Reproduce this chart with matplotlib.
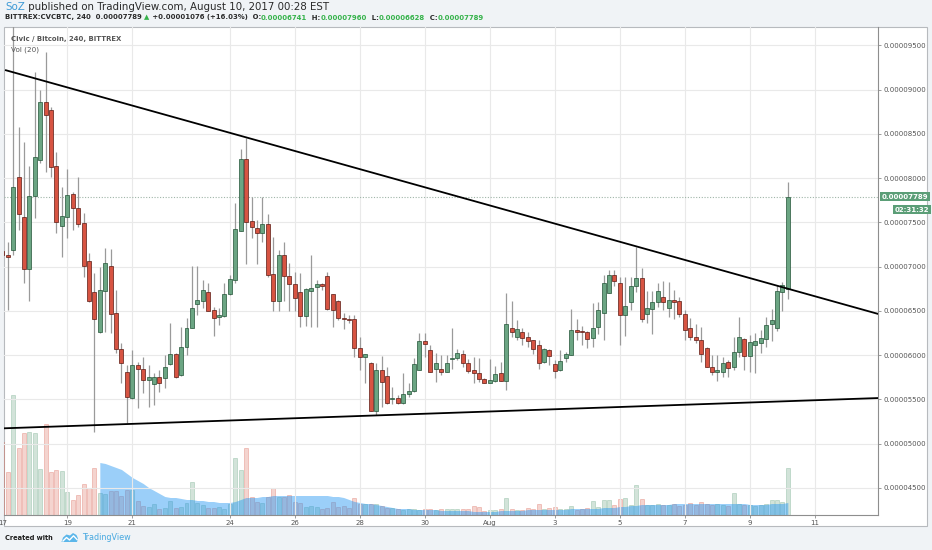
import numpy as np
import pandas as pd
import matplotlib
matplotlib.use('Agg')
import matplotlib.pyplot as plt
import matplotlib.dates as mdates
from matplotlib.patches import Rectangle, Polygon
from matplotlib.ticker import FuncFormatter

# ---------------- data (prices in satoshi = 1e-8 BTC) ----------------
start_time = '2017-07-17 00:00'   # first 4h candle (partly hidden at left edge)
opens = [7180, 7130, 7187, 8008, 7556, 6972, 7797, 8204, 8863, 8769, 8136, 7458, 7564, 7820, 7658, 7488,
         7062, 6708, 6264, 6727, 7010, 6471, 6068, 5812, 5510, 5887, 5838, 5718, 5672, 5748, 5737, 5898,
         6008, 5774, 6087, 6302, 6573, 6614, 6716, 6509, 6426, 6441, 6686, 6848, 7405, 8211, 7518, 7432,
         7383, 7481, 6912, 6614, 7130, 6893, 6803, 6716, 6445, 6727, 6765, 6799, 6893, 6690, 6614, 6422,
         6411, 6407, 6083, 5982, 5906, 5371, 5831, 5763, 5499, 5518, 5454, 5556, 5593, 5831, 6162, 6057,
         5838, 5838, 5812, 5951, 5970, 6008, 5906, 5831, 5793, 5725, 5688, 5707, 5793, 5710, 6309, 6200,
         6264, 6200, 6170, 6113, 5925, 6057, 5895, 5831, 5963, 6000, 6283, 6272, 6256, 6189, 6321, 6471,
         6705, 6901, 6810, 6452, 6603, 6780, 6867, 6464, 6516, 6603, 6660, 6528, 6622, 6611, 6464, 6302,
         6200, 6170, 6083, 5868, 5806, 5806, 5925, 5868, 6038, 6181, 5989, 6113, 6140, 6177, 6351, 6302,
         6716, 6741]
highs = [7300, 7281, 9800, 8581, 8411, 8136, 9202, 8995, 9421, 8807, 8298, 7903, 8098, 7846, 8016, 7601,
         7149, 6923, 6998, 7206, 7194, 6735, 6132, 5887, 6057, 5925, 5981, 5887, 5793, 5831, 6000, 6358,
         6027, 6313, 6415, 7006, 7006, 6848, 6810, 6546, 6528, 6810, 6904, 7714, 8324, 8449, 7789, 7526,
         7782, 7594, 7337, 7187, 7281, 7036, 6942, 6923, 6754, 7130, 6848, 6818, 6942, 6690, 6622, 6471,
         6452, 6452, 6208, 6010, 5917, 5906, 5989, 5868, 5635, 5548, 5793, 5680, 5963, 6245, 6245, 6113,
         6019, 6000, 6000, 6302, 6064, 6057, 5951, 5982, 5963, 5737, 5951, 5876, 5925, 6697, 6614, 6396,
         6302, 6264, 6175, 6170, 6076, 6064, 5944, 6057, 6038, 6516, 6403, 6328, 6275, 6592, 6603, 6904,
         6965, 6961, 6886, 6886, 6878, 7217, 6980, 6727, 6723, 6818, 6840, 6829, 6735, 6652, 6509, 6415,
         6351, 6313, 6095, 6000, 6000, 5981, 5944, 6207, 6434, 6189, 6226, 6245, 6283, 6434, 6516, 6791,
         6829, 7960]
lows = [7060, 6509, 7130, 7413, 6810, 6614, 7545, 8166, 8072, 8016, 7375, 7112, 7319, 7413, 7450, 6885,
        6603, 5134, 6250, 6264, 6245, 6019, 5680, 5228, 5500, 5397, 5567, 5416, 5435, 5586, 5624, 5887,
        5737, 5760, 6000, 6300, 6452, 6528, 6495, 6215, 6339, 6430, 6680, 6810, 7400, 7029, 7319, 7029,
        7281, 6885, 6501, 6501, 6614, 6501, 6501, 6320, 6330, 6321, 6321, 6735, 6509, 6321, 6396, 6290,
        6366, 5982, 5831, 5688, 5365, 5322, 5409, 5447, 5447, 5447, 5447, 5529, 5586, 5831, 5982, 5812,
        5699, 5774, 5804, 5838, 5944, 5868, 5801, 5688, 5699, 5680, 5680, 5699, 5705, 5605, 6208, 6170,
        6113, 6095, 6012, 5838, 5906, 5887, 5737, 5823, 5917, 5995, 6170, 6113, 6076, 6087, 6235, 6170,
        6697, 6780, 6113, 6219, 6509, 6716, 6377, 6366, 6234, 6547, 6509, 6434, 6403, 6434, 6170, 6170,
        6140, 5925, 5862, 5774, 5710, 5755, 5755, 5831, 5981, 5831, 5812, 5801, 6019, 6094, 6162, 6275,
        6501, 6628]
closes = [7130, 7112, 7903, 7594, 6972, 7797, 8242, 8863, 8712, 8129, 7499, 7571, 7808, 7658, 7481, 7006,
          6610, 6403, 6735, 7036, 6464, 6068, 5914, 5522, 5887, 5838, 5718, 5748, 5748, 5688, 5861, 6008,
          5755, 6087, 6309, 6528, 6622, 6735, 6501, 6415, 6452, 6690, 6859, 7424, 8211, 7507, 7450, 7383,
          7481, 6904, 6614, 7130, 6893, 6799, 6648, 6445, 6742, 6754, 6799, 6780, 6516, 6509, 6415, 6403,
          6396, 6076, 5982, 6008, 5371, 5831, 5699, 5454, 5518, 5462, 5556, 5597, 5895, 6162, 6121, 5812,
          5906, 5804, 5906, 5963, 6027, 5906, 5820, 5801, 5725, 5688, 5718, 5786, 5710, 6351, 6256, 6290,
          6196, 6162, 6072, 5914, 6064, 5989, 5823, 5936, 6012, 6283, 6264, 6256, 6177, 6302, 6509, 6810,
          6900, 6837, 6452, 6554, 6780, 6867, 6403, 6528, 6603, 6727, 6603, 6622, 6603, 6464, 6283, 6200,
          6170, 6008, 5868, 5812, 5831, 5914, 5850, 6038, 6207, 5989, 6151, 6159, 6189, 6339, 6396, 6724,
          6791, 7789]
volumes = [73, 43, 120, 67, 82, 83, 82, 46, 91, 43, 45, 44, 23, 15, 20, 31, 27, 47,
           22, 21, 24, 24, 19, 25, 25, 14, 9, 8, 11, 6, 7, 14, 7, 8, 12, 33, 12, 10, 7, 7, 8, 6, 11,
           57, 45, 67, 18, 13, 12, 18, 27, 18, 18, 20, 13, 12, 8, 9, 8, 6, 7, 13, 8, 9, 7, 17, 11, 11,
           11, 11, 9, 7, 7, 6, 5, 6, 6, 5, 6, 6, 5, 6, 6, 6, 6, 6,
           6, 9, 8, 4, 5, 5, 6, 17, 6, 5, 5, 7, 6, 11, 6, 7, 8, 6, 6, 9, 5, 6, 7, 14, 8, 15, 15, 10,
           16, 17, 10, 30, 16, 10, 10, 11, 10, 10, 11, 9, 10, 12, 10, 13, 11, 10, 11, 10, 9, 22, 11,
           10, 10, 9, 10, 11, 15, 15, 13, 47]
vol_ma20 = [np.nan] * 18 + [
    52, 51, 49, 47, 45, 41, 37, 34, 31, 27, 24, 21, 18, 17, 17, 16, 15, 15, 14, 14, 13, 13, 12, 12, 12,
    13, 15, 17, 17, 17, 18, 18, 19, 19, 19, 19, 19, 19, 19, 19, 19, 19, 19, 18, 18, 17, 15, 13, 12, 11,
    11, 10, 9, 8, 7, 6, 6, 6, 5, 5, 5, 5, 5, 4, 4, 4, 4, 4,
    4, 3, 3, 3, 3, 3, 4, 4, 4, 4, 4, 5, 5, 5, 5, 5, 5, 5, 5, 6, 6, 6, 6, 6, 6, 7, 7, 7, 8, 8, 9, 9,
    10, 10, 10, 10, 10, 10, 11, 11, 11, 11, 11, 11, 11, 11, 11, 11, 11, 11, 11, 11, 10, 10, 10, 10,
    11, 11, 11, 12]

tick_dates = ['2017-07-19', '2017-07-21', '2017-07-24', '2017-07-26', '2017-07-28', '2017-07-30',
              '2017-08-01', '2017-08-03', '2017-08-05', '2017-08-07', '2017-08-09', '2017-08-11']
tick_labels = ['19', '21', '24', '26', '28', '30', 'Aug', '3', '5', '7', '9', '11']
price_ticks = [4500, 5000, 5500, 6000, 6500, 7000, 7500, 8000, 8500, 9000, 9500]

upper_trend = (['2017-07-17 02:00', '2017-08-12 22:48'], [9221, 6464])
lower_trend = (['2017-07-17 01:15', '2017-08-12 22:48'], [5172, 5514])
last_price = 7789
countdown = '02:31:32'

# ---------------- figure ----------------
W, H = 932, 550
fig = plt.figure(figsize=(W / 100, H / 100), dpi=100, facecolor='#f0f3f6')
renderer = fig.canvas.get_renderer()


def fx(px):
    return px / W


def fy(py):
    return 1 - py / H


fig.patches.append(Rectangle((fx(4), fy(526)), fx(927) - fx(4), fy(27) - fy(526),
                             transform=fig.transFigure, facecolor='white',
                             edgecolor='#b7babe', lw=0.8, zorder=0))

rect = [fx(4), fy(514.5), fx(878.3) - fx(4), fy(27) - fy(514.5)]
ax_vol = fig.add_axes(rect, zorder=1)
ax = fig.add_axes(rect, zorder=2, sharex=ax_vol)
for a in (ax, ax_vol):
    a.patch.set_visible(False)

times = pd.date_range(start_time, periods=len(opens), freq='4h')
x = mdates.date2num(times)
o = np.array(opens, float)
h = np.array(highs, float)
l = np.array(lows, float)
c = np.array(closes, float)
up = c >= o
bw = 0.123  # body width in days

x0 = mdates.date2num(pd.Timestamp(start_time))
ax.set_xlim(x0 + 0.052, x0 + 26.95)
ax.set_ylim(4198, 9707)

# volume
green_fill = (0x6b / 255, 0xa5 / 255, 0x83 / 255, 0.30)
red_fill = (0xd7 / 255, 0x54 / 255, 0x42 / 255, 0.25)
green_edge = (0x6b / 255, 0xa5 / 255, 0x83 / 255, 0.45)
red_edge = (0xd7 / 255, 0x54 / 255, 0x42 / 255, 0.40)
ax_vol.bar(x, volumes, width=bw, color=[green_fill if u else red_fill for u in up],
           edgecolor=[green_edge if u else red_edge for u in up], linewidth=0.5)
ma = np.array(vol_ma20, float)
ax_vol.fill_between(x, 0, ma, where=~np.isnan(ma), color='#2196f3', alpha=0.45, lw=0)
ax_vol.set_ylim(0, 487.5)
ax_vol.tick_params(left=False, right=False, bottom=False, top=False,
                   labelleft=False, labelbottom=False)
for s in ax_vol.spines.values():
    s.set_visible(False)

# grid
ax.set_yticks(price_ticks)
ax.set_xticks(mdates.date2num(pd.to_datetime(tick_dates)))
ax.set_xticklabels(tick_labels)
ax.grid(True, color='#e9e9e9', lw=0.8, zorder=0)
ax.set_axisbelow(True)

# last price dotted line
ax.axhline(last_price, color='#9fb5a8', lw=0.8, ls=(0, (1, 1.5)), zorder=1)

# candles
ax.vlines(x, l, h, color='#9a9a9a', lw=0.9, zorder=2)
body_bottom = np.minimum(o, c)
body_h = np.maximum(np.abs(c - o), 9)
ax.bar(x, body_h, bottom=body_bottom, width=bw,
       color=np.where(up, '#6ba583', '#d75442'),
       edgecolor=np.where(up, '#225437', '#5b1a13'), linewidth=0.5, zorder=3)

# trend lines
for dts, vals in (upper_trend, lower_trend):
    ax.plot(mdates.date2num(pd.to_datetime(dts)), vals, color='black', lw=1.3,
            zorder=4, solid_capstyle='butt')

# axes styling
ax.yaxis.tick_right()
ax.yaxis.set_major_formatter(FuncFormatter(lambda v, p: f"{v / 1e8:.8f}"))
ax.tick_params(axis='y', length=2, width=0.6, color='#8c8c8c', labelsize=5,
               labelcolor='#555555', pad=1.8)
ax.tick_params(axis='x', length=2, width=0.6, color='#8c8c8c', labelsize=5,
               labelcolor='#555555', pad=2)
for side in ('top', 'left'):
    ax.spines[side].set_visible(False)
for side in ('right', 'bottom'):
    ax.spines[side].set_color('#8e8e8e')
    ax.spines[side].set_linewidth(0.8)

# clipped "17" label at the left edge (cut by the chart edge, as in the original)
ax.text(x0, -5.6 / 487.5, '17', transform=ax.get_xaxis_transform(), ha='center', va='top',
        fontsize=5, color='#555555', clip_on=False)

# price label boxes
ax.annotate(f"{last_price / 1e8:.8f}", xy=(1, last_price), xycoords=('axes fraction', 'data'),
            xytext=(3, 0), textcoords='offset pixels', ha='left', va='center',
            fontsize=5, color='white', fontweight='bold',
            bbox=dict(boxstyle='square,pad=0.25', fc='#5b9e77', ec='none'), annotation_clip=False)
ax.annotate(countdown, xy=(1, last_price), xycoords=('axes fraction', 'data'),
            xytext=(16, -13), textcoords='offset pixels', ha='left', va='center',
            fontsize=5, color='white', fontweight='bold',
            bbox=dict(boxstyle='square,pad=0.25', fc='#5b9e77', ec='none'), annotation_clip=False)


# ---------------- texts ----------------
def text_width(s, size, weight):
    t = fig.text(0, 0, s, fontsize=size, fontweight=weight)
    w = t.get_window_extent(renderer).width
    t.remove()
    return w


def seg_line(x_left, yc, segs, target_w, weight='normal', base=6.0):
    full = ''.join(s for s, _ in segs)
    size = base * target_w / text_width(full, base, weight)
    bar = text_width('|', size, weight)
    prefix = ''
    for s, col in segs:
        off = (text_width(prefix + '|', size, weight) - bar) if prefix else 0
        fig.text(fx(x_left + off), fy(yc), s, color=col, fontsize=size, fontweight=weight,
                 va='center', ha='left')
        prefix += s


dark = '#2a2a2a'
grn = '#35b24a'
seg_line(5, 6.7, [('SoZ', '#3d9ad6'),
                  (' published on TradingView.com, August 10, 2017 00:28 EST', dark)], 326)
seg_line(5, 17.5, [('BITTREX:CVCBTC, 240  0.00007789 ', dark), ('▲', grn),
                   (' +0.00001076 (+16.03%)  O:', dark), ('0.00006741', grn),
                   ('  H:', dark), ('0.00007960', grn), ('  L:', dark), ('0.00006628', grn),
                   ('  C:', dark), ('0.00007789', grn)], 474, weight='bold')
seg_line(11, 39, [('Civic / Bitcoin, 240, BITTREX', '#555555')], 111, weight='bold')
seg_line(11, 49.5, [('Vol (20)', '#555555')], 28)
seg_line(5, 538, [('Created with', '#1e1e1e')], 49, weight='bold')
seg_line(82, 538, [('TradingView', '#46a8e0')], 49)

# TradingView cloud logo
cloud = [(61.5, 542), (63, 537.5), (66.5, 534.5), (70, 535.5), (73, 533), (76.5, 535),
         (78, 538.5), (77, 542)]
fig.patches.append(Polygon([(fx(a), fy(b)) for a, b in cloud], closed=True,
                           transform=fig.transFigure, fc='#5bb6ea', ec='none'))
zig = [(63, 541), (66.5, 537.5), (69.5, 540), (73.5, 535.8), (77, 539.5)]
fig.lines.append(plt.Line2D([fx(a) for a, b in zig], [fy(b) for a, b in zig],
                            transform=fig.transFigure, color='white', lw=1.0))

fig.savefig('out.png', dpi=100, facecolor=fig.get_facecolor())
